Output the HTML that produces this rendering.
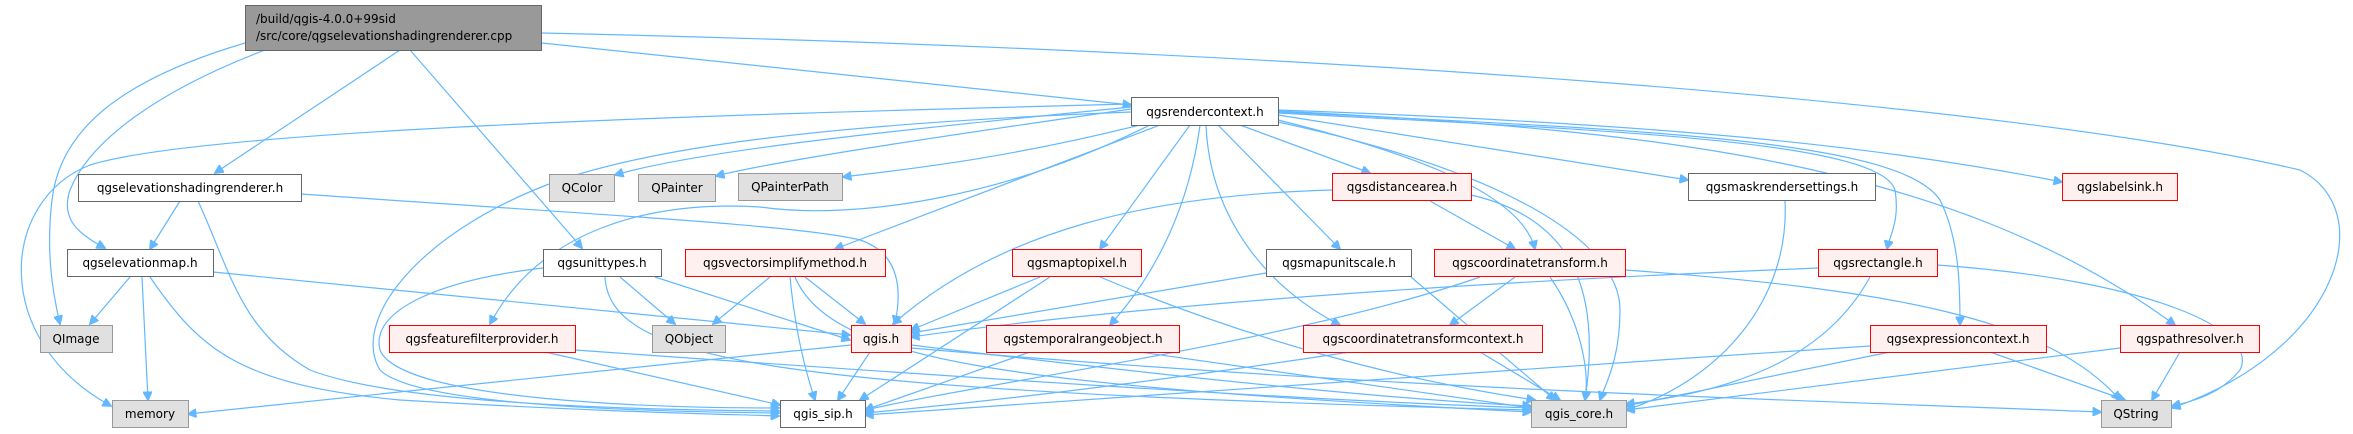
<!DOCTYPE html>
<html><head><meta charset="utf-8"><style>
html,body{margin:0;padding:0;background:#fff;}
svg{display:block;}
text{font-family:"DejaVu Sans","Liberation Sans",sans-serif;font-size:12px;fill:#000;}
.e{fill:none;stroke:#63b8ff;stroke-width:1.2;}
</style></head><body>
<svg width="2353" height="434" viewBox="0 0 2353 434" xmlns="http://www.w3.org/2000/svg">
<defs><marker id="a" viewBox="0 0 10 10" refX="9" refY="5" markerWidth="10" markerHeight="9" orient="auto" markerUnits="userSpaceOnUse"><path d="M0,0 L10,5 L0,10 z" fill="#63b8ff" stroke="#63b8ff"/></marker></defs>
<g marker-end="url(#a)">
<path class="e" d="M542,43 L1131,105"/>
<path class="e" d="M542,33 C1300,50 2000,100 2300,170 C2380,210 2340,350 2172,408"/>
<path class="e" d="M400,50 L215,173"/>
<path class="e" d="M265,50 C160,90 90,140 70,190 C60,220 80,235 105,248"/>
<path class="e" d="M245,43 C120,80 60,130 52,200 C46,250 52,290 60,324"/>
<path class="e" d="M410,50 L582,248"/>
<path class="e" d="M1131,104 C700,115 200,130 90,165 C0,200 -10,340 111,406"/>
<path class="e" d="M1131,107 C900,130 700,150 615,175"/>
<path class="e" d="M1131,109 C950,135 780,160 716,176"/>
<path class="e" d="M1140,125 C1000,160 900,170 843,177"/>
<path class="e" d="M1150,125 C1000,200 850,220 760,207 C650,200 540,230 490,324"/>
<path class="e" d="M1160,125 L835,249"/>
<path class="e" d="M1131,112 C800,125 650,150 560,180 C420,230 350,320 380,370 C420,410 700,412 779,413"/>
<path class="e" d="M1190,125 L1100,249"/>
<path class="e" d="M1200,125 C1190,200 1160,270 1110,325"/>
<path class="e" d="M1206,125 C1210,220 1270,290 1340,325"/>
<path class="e" d="M1218,125 L1340,249"/>
<path class="e" d="M1240,125 L1370,173"/>
<path class="e" d="M1278,120 C1400,150 1520,190 1535,249"/>
<path class="e" d="M1278,122 C1500,170 1620,240 1620,310 C1620,360 1605,385 1600,400"/>
<path class="e" d="M1278,115 L1688,180"/>
<path class="e" d="M1278,113 C1600,130 1880,140 1895,190 C1900,220 1890,235 1887,249"/>
<path class="e" d="M1278,112 C1650,130 1900,140 1940,200 C1960,240 1960,290 1960,325"/>
<path class="e" d="M1278,111 C1650,130 1950,160 2175,325"/>
<path class="e" d="M1278,110 C1700,125 1900,150 2062,182"/>
<path class="e" d="M180,201 L150,249"/>
<path class="e" d="M198,201 C230,270 240,330 310,370 C400,405 650,410 779,411"/>
<path class="e" d="M301,194 C600,215 800,225 860,240 C905,255 900,300 895,324"/>
<path class="e" d="M130,277 L90,324"/>
<path class="e" d="M142,277 L148,400"/>
<path class="e" d="M150,277 C200,350 240,385 400,400 C600,412 720,414 779,416"/>
<path class="e" d="M213,272 L850,335"/>
<path class="e" d="M620,277 L675,324"/>
<path class="e" d="M655,277 L850,340"/>
<path class="e" d="M543,268 C440,280 370,310 380,350 C400,400 650,408 779,408"/>
<path class="e" d="M605,277 C610,360 760,390 1531,410"/>
<path class="e" d="M770,277 L713,324"/>
<path class="e" d="M805,277 L865,324"/>
<path class="e" d="M790,277 C795,330 805,370 815,400"/>
<path class="e" d="M795,277 C830,360 1000,385 1531,412"/>
<path class="e" d="M545,352 L780,405"/>
<path class="e" d="M575,350 C1000,380 1300,400 1531,408"/>
<path class="e" d="M1040,277 L911,330"/>
<path class="e" d="M1050,277 L860,400"/>
<path class="e" d="M1100,277 C1250,340 1400,380 1535,400"/>
<path class="e" d="M1332,190 C1150,195 1000,230 893,324"/>
<path class="e" d="M1430,201 L1515,249"/>
<path class="e" d="M1471,195 C1580,220 1600,300 1585,400"/>
<path class="e" d="M1266,273 L911,333"/>
<path class="e" d="M1411,277 L1555,400"/>
<path class="e" d="M1515,277 L1450,325"/>
<path class="e" d="M1480,277 C1300,340 1000,380 865,410"/>
<path class="e" d="M1550,277 C1580,320 1590,370 1585,400"/>
<path class="e" d="M1625,270 C1900,290 2050,320 2120,400"/>
<path class="e" d="M851,345 L188,414"/>
<path class="e" d="M870,352 L838,400"/>
<path class="e" d="M911,345 C1200,380 1400,400 1531,406"/>
<path class="e" d="M911,348 C1400,390 1800,400 2101,412"/>
<path class="e" d="M1030,352 L865,410"/>
<path class="e" d="M1140,352 L1531,408"/>
<path class="e" d="M1350,352 C1100,390 950,405 865,413"/>
<path class="e" d="M1480,352 L1560,400"/>
<path class="e" d="M1818,268 C1400,285 1100,310 911,337"/>
<path class="e" d="M1870,277 C1830,350 1750,390 1626,404"/>
<path class="e" d="M1937,265 C2150,280 2260,330 2240,370 C2220,395 2190,402 2172,406"/>
<path class="e" d="M1870,346 C1500,370 1100,400 865,415"/>
<path class="e" d="M1890,352 L1626,406"/>
<path class="e" d="M1990,352 L2125,400"/>
<path class="e" d="M2120,348 L1626,410"/>
<path class="e" d="M2180,352 L2152,400"/>
<path class="e" d="M1785,201 C1790,300 1720,380 1626,410"/>
</g>
<g stroke-width="1">
<rect x="245.5" y="5.5" width="296" height="45" fill="#999" stroke="#666"/>
<text x="256" y="23">/build/qgis-4.0.0+99sid</text>
<text x="256" y="40">/src/core/qgselevationshadingrenderer.cpp</text>

<rect x="1131.5" y="97.5" width="147" height="28" fill="#fff" stroke="#666"/>
<text x="1205" y="116" text-anchor="middle">qgsrendercontext.h</text>
<rect x="78.5" y="174.5" width="223" height="27" fill="#fff" stroke="#666"/>
<text x="190" y="192" text-anchor="middle">qgselevationshadingrenderer.h</text>
<rect x="67.5" y="249.5" width="146" height="27" fill="#fff" stroke="#666"/>
<text x="140" y="267" text-anchor="middle">qgselevationmap.h</text>
<rect x="543.5" y="249.5" width="118" height="27" fill="#fff" stroke="#666"/>
<text x="602" y="267" text-anchor="middle">qgsunittypes.h</text>
<rect x="1266.5" y="249.5" width="145" height="27" fill="#fff" stroke="#666"/>
<text x="1339" y="267" text-anchor="middle">qgsmapunitscale.h</text>
<rect x="1688.5" y="173.5" width="187" height="27" fill="#fff" stroke="#666"/>
<text x="1782" y="191" text-anchor="middle">qgsmaskrendersettings.h</text>
<rect x="780.5" y="400.5" width="85" height="27" fill="#fff" stroke="#666"/>
<text x="823" y="418" text-anchor="middle">qgis_sip.h</text>

<g fill="#e0e0e0" stroke="#999">
<rect x="40.5" y="325.5" width="72" height="27"/>
<rect x="112.5" y="400.5" width="76" height="27"/>
<rect x="652.5" y="325.5" width="73" height="27"/>
<rect x="549.5" y="174.5" width="65" height="27"/>
<rect x="638.5" y="174.5" width="77" height="27"/>
<rect x="738.5" y="173.5" width="104" height="27"/>
<rect x="1531.5" y="400.5" width="95" height="27"/>
<rect x="2101.5" y="400.5" width="70" height="27"/>
</g>
<text x="76" y="343" text-anchor="middle">QImage</text>
<text x="150" y="418" text-anchor="middle">memory</text>
<text x="689" y="343" text-anchor="middle">QObject</text>
<text x="582" y="192" text-anchor="middle">QColor</text>
<text x="677" y="192" text-anchor="middle">QPainter</text>
<text x="790" y="191" text-anchor="middle">QPainterPath</text>
<text x="1579" y="418" text-anchor="middle">qgis_core.h</text>
<text x="2136" y="418" text-anchor="middle">QString</text>

<g fill="#fff0f0" stroke="#f00">
<rect x="685.5" y="249.5" width="200" height="27"/>
<rect x="389.5" y="325.5" width="186" height="27"/>
<rect x="1012.5" y="249.5" width="129" height="27"/>
<rect x="1332.5" y="173.5" width="139" height="27"/>
<rect x="1434.5" y="249.5" width="191" height="27"/>
<rect x="851.5" y="325.5" width="60" height="27"/>
<rect x="986.5" y="325.5" width="193" height="27"/>
<rect x="1303.5" y="325.5" width="239" height="27"/>
<rect x="2062.5" y="173.5" width="115" height="27"/>
<rect x="1818.5" y="249.5" width="119" height="27"/>
<rect x="1870.5" y="325.5" width="176" height="27"/>
<rect x="2120.5" y="325.5" width="139" height="27"/>
</g>
<text x="785" y="267" text-anchor="middle">qgsvectorsimplifymethod.h</text>
<text x="482" y="343" text-anchor="middle">qgsfeaturefilterprovider.h</text>
<text x="1077" y="267" text-anchor="middle">qgsmaptopixel.h</text>
<text x="1402" y="191" text-anchor="middle">qgsdistancearea.h</text>
<text x="1530" y="267" text-anchor="middle">qgscoordinatetransform.h</text>
<text x="881" y="343" text-anchor="middle">qgis.h</text>
<text x="1083" y="343" text-anchor="middle">qgstemporalrangeobject.h</text>
<text x="1423" y="343" text-anchor="middle">qgscoordinatetransformcontext.h</text>
<text x="2120" y="191" text-anchor="middle">qgslabelsink.h</text>
<text x="1878" y="267" text-anchor="middle">qgsrectangle.h</text>
<text x="1958" y="343" text-anchor="middle">qgsexpressioncontext.h</text>
<text x="2190" y="343" text-anchor="middle">qgspathresolver.h</text>
</g>
</svg>
</body></html>
